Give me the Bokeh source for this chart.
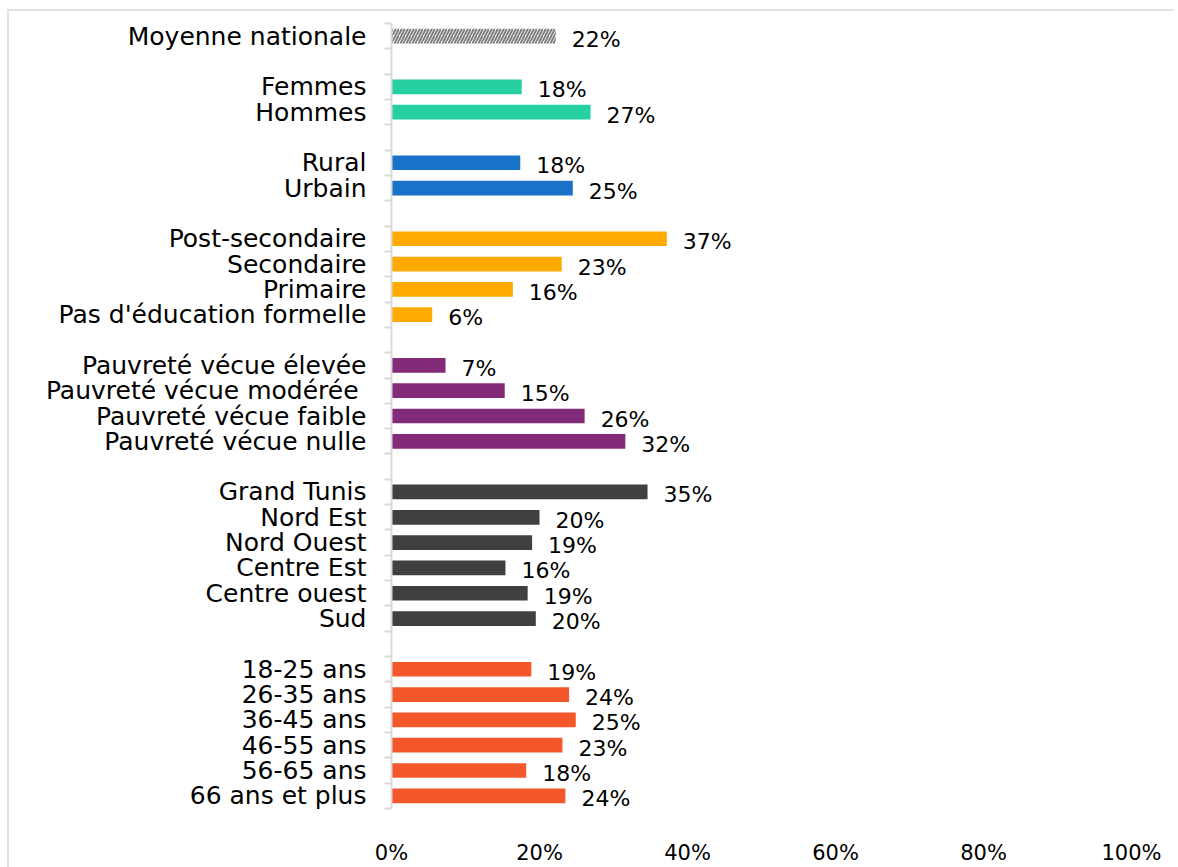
from bokeh.plotting import figure
from bokeh.models import ColumnDataSource, LabelSet, FixedTicker, Range1d
from bokeh.core.properties import value
from bokeh.embed import file_html
from bokeh.resources import INLINE

# ---- data ----
national_label = ["Moyenne nationale"]
national_value = [22.2]
national_text = ["22%"]

gender = ["Femmes", "Hommes"]
gender_values = [17.6, 26.9]
gender_text = ["18%", "27%"]

area = ["Rural", "Urbain"]
area_values = [17.4, 24.5]
area_text = ["18%", "25%"]

education = ["Post-secondaire", "Secondaire", "Primaire", "Pas d'éducation formelle"]
education_values = [37.2, 23.0, 16.4, 5.5]
education_text = ["37%", "23%", "16%", "6%"]

poverty = ["Pauvreté vécue élevée", "Pauvreté vécue modérée ", "Pauvreté vécue faible", "Pauvreté vécue nulle"]
poverty_values = [7.3, 15.3, 26.1, 31.6]
poverty_text = ["7%", "15%", "26%", "32%"]

region = ["Grand Tunis", "Nord Est", "Nord Ouest", "Centre Est", "Centre ouest", "Sud"]
region_values = [34.6, 20.0, 19.0, 15.4, 18.4, 19.5]
region_text = ["35%", "20%", "19%", "16%", "19%", "20%"]

age = ["18-25 ans", "26-35 ans", "36-45 ans", "46-55 ans", "56-65 ans", "66 ans et plus"]
age_values = [18.9, 24.0, 24.9, 23.1, 18.2, 23.5]
age_text = ["19%", "24%", "25%", "23%", "18%", "24%"]

x_ticks = [0, 20, 40, 60, 80, 100]
x_tick_labels = ["0%", "20%", "40%", "60%", "80%", "100%"]

groups = [
    (national_label, national_value, national_text, "#8c8c8c"),
    (gender, gender_values, gender_text, "#26D0A0"),
    (area, area_values, area_text, "#1A73C9"),
    (education, education_values, education_text, "#FFAA00"),
    (poverty, poverty_values, poverty_text, "#832A78"),
    (region, region_values, region_text, "#404040"),
    (age, age_values, age_text, "#F4582A"),
]

# ---- build slots ----
ys, cats, vals, txts, cols = [], [], [], [], []
slot = 0
for gi, (c, v, t, col) in enumerate(groups):
    if gi > 0:
        slot += 1  # blank slot between groups
    for ci in range(len(c)):
        ys.append(slot)
        cats.append(c[ci])
        vals.append(v[ci])
        txts.append(t[ci])
        cols.append(col)
        slot += 1
n_slots = slot

FONT = "DejaVu Sans"

p = figure(width=1169, height=856, output_backend="svg", toolbar_location=None,
           x_range=Range1d(0, 100), y_range=Range1d(n_slots - 0.5, -0.5),
           min_border_left=382, min_border_right=47, min_border_top=12, min_border_bottom=48)
p.outline_line_color = None
p.grid.visible = False
p.styles = {"margin-left": "9px", "margin-top": "11px",
            "outline": "2px solid #e3e3e3",
            "clip-path": "inset(-3px 4px -3px -3px)"}

src = ColumnDataSource(dict(y=ys[1:], v=vals[1:], color=cols[1:]))
p.hbar(y="y", left=0, right="v", height=0.58, fill_color="color", line_color=None, source=src)

nat = ColumnDataSource(dict(y=ys[:1], v=vals[:1]))
p.hbar(y="y", left=0, right="v", height=0.58, fill_color="white", line_color=None,
       hatch_pattern="/", hatch_color="#7f7f7f", hatch_weight=2, hatch_scale=6, source=nat)

lab_src = ColumnDataSource(dict(y=ys, v=vals, t=txts))
p.add_layout(LabelSet(x="v", y="y", text="t", source=lab_src, x_offset=16, y_offset=-3,
                      text_align="left", text_baseline="middle", text_font=value(FONT),
                      text_font_size="22px", text_color="#000000"))

# y axis
p.yaxis.ticker = FixedTicker(ticks=ys, minor_ticks=[i - 0.5 for i in range(n_slots + 1)])
p.yaxis.major_label_overrides = {y: c for y, c in zip(ys, cats)}
p.yaxis.major_tick_out = 0
p.yaxis.major_tick_in = 0
p.yaxis.minor_tick_out = 7
p.yaxis.minor_tick_in = 0
p.yaxis.minor_tick_line_color = "#d9d9d9"
p.yaxis.minor_tick_line_width = 2
p.yaxis.axis_line_color = "#d9d9d9"
p.yaxis.axis_line_width = 2
p.yaxis.major_label_standoff = 18
p.yaxis.major_label_text_font = FONT
p.yaxis.major_label_text_font_size = "25px"
p.yaxis.major_label_text_color = "#000000"

# x axis
p.xaxis.ticker = FixedTicker(ticks=x_ticks)
p.xaxis.major_label_overrides = {t: l for t, l in zip(x_ticks, x_tick_labels)}
p.xaxis.axis_line_color = None
p.xaxis.major_tick_line_color = None
p.xaxis.minor_tick_line_color = None
p.xaxis.major_label_standoff = 26
p.xaxis.major_label_text_font = FONT
p.xaxis.major_label_text_font_size = "21px"
p.xaxis.major_label_text_color = "#000000"

open("out.html", "w").write(file_html(p, INLINE))
